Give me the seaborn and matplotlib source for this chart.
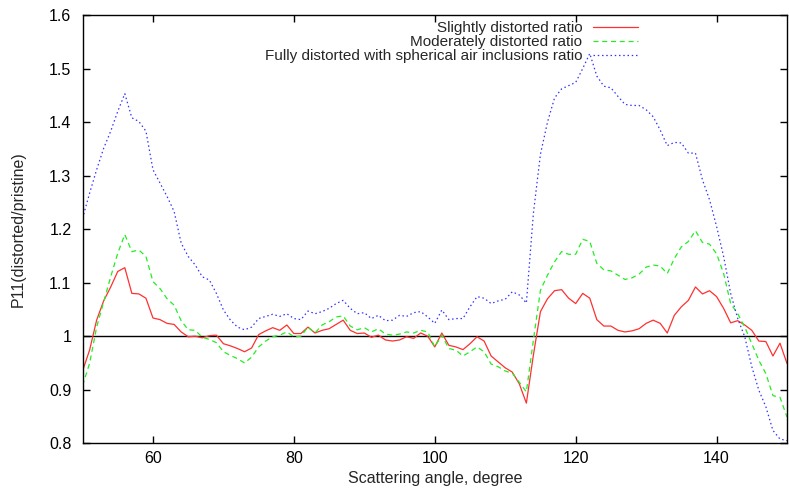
import numpy as np
import pandas as pd
import seaborn as sns
import matplotlib
matplotlib.use('Agg')
import matplotlib.pyplot as plt

angle = list(range(50, 151))

slightly = [0.935, 0.974, 1.03, 1.066, 1.092, 1.121, 1.128, 1.08, 1.079, 1.071,
            1.034, 1.031, 1.024, 1.022, 1.008, 0.999, 1.0, 0.997, 1.001, 1.002,
            0.986, 0.982, 0.977, 0.971, 0.978, 1.003, 1.01, 1.016, 1.011, 1.021,
            1.005, 1.005, 1.017, 1.006, 1.011, 1.014, 1.022, 1.03, 1.011, 1.005,
            1.006, 0.998, 1.002, 0.993, 0.991, 0.993, 0.999, 0.996, 1.006, 1.0,
            0.98, 1.006, 0.983, 0.98, 0.975, 0.986, 0.999, 0.991, 0.963, 0.952,
            0.941, 0.933, 0.911, 0.875, 0.965, 1.046, 1.07, 1.085, 1.087, 1.071,
            1.061, 1.08, 1.071, 1.031, 1.019, 1.019, 1.011, 1.008, 1.01, 1.014,
            1.024, 1.03, 1.024, 1.006, 1.039, 1.055, 1.067, 1.092, 1.079, 1.085,
            1.074, 1.052, 1.025, 1.029, 1.021, 1.011, 0.991, 0.99, 0.963, 0.987,
            0.949]

moderately = [0.908, 0.949, 1.017, 1.064, 1.111, 1.155, 1.19, 1.158, 1.161, 1.149,
              1.102, 1.089, 1.07, 1.058, 1.029, 1.012, 1.011, 0.998, 0.994, 0.988,
              0.971, 0.964, 0.958, 0.95, 0.961, 0.98, 0.991, 0.999, 1.002, 1.008,
              0.999, 1.0, 1.017, 1.006, 1.021, 1.027, 1.036, 1.038, 1.019, 1.012,
              1.016, 1.008, 1.014, 1.004, 1.002, 1.004, 1.008, 1.006, 1.011, 1.008,
              0.98, 1.002, 0.977, 0.974, 0.963, 0.971, 0.98, 0.971, 0.948, 0.943,
              0.935, 0.931, 0.914, 0.896, 0.993, 1.086, 1.114, 1.139, 1.158, 1.153,
              1.153, 1.181, 1.177, 1.136, 1.124, 1.122, 1.114, 1.106, 1.109, 1.116,
              1.129, 1.133, 1.131, 1.117, 1.145, 1.167, 1.177, 1.197, 1.175, 1.172,
              1.154, 1.117, 1.061, 1.042, 1.017, 0.986, 0.955, 0.93, 0.889, 0.886,
              0.849]

fully = [1.22, 1.267, 1.311, 1.351, 1.383, 1.42, 1.453, 1.408, 1.401, 1.383,
         1.311, 1.286, 1.261, 1.233, 1.174, 1.149, 1.133, 1.111, 1.105, 1.08,
         1.049, 1.03, 1.017, 1.012, 1.017, 1.033, 1.037, 1.041, 1.037, 1.042,
         1.033, 1.031, 1.047, 1.042, 1.046, 1.052, 1.061, 1.067, 1.052, 1.042,
         1.044, 1.033, 1.039, 1.029, 1.03, 1.039, 1.037, 1.044, 1.046, 1.036,
         1.024, 1.049, 1.031, 1.033, 1.033, 1.055, 1.074, 1.071, 1.061, 1.066,
         1.069, 1.083, 1.077, 1.062, 1.23, 1.34, 1.40, 1.445, 1.462, 1.468,
         1.474, 1.50, 1.528, 1.486, 1.467, 1.464, 1.448, 1.433, 1.431, 1.431,
         1.423, 1.41, 1.385, 1.356, 1.362, 1.361, 1.342, 1.342, 1.292, 1.255,
         1.205, 1.149, 1.08, 1.033, 0.999, 0.943, 0.899, 0.868, 0.824, 0.808,
         0.805]

labels = ['Slightly distorted ratio',
          'Moderately distorted ratio',
          'Fully distorted with spherical air inclusions ratio']

sns.set_style('ticks')
plt.rcParams['font.family'] = ['Liberation Sans', 'DejaVu Sans']

fig = plt.figure(figsize=(7.89, 4.88), dpi=100)
ax = fig.add_axes([0.1046, 0.0916, 0.8929, 0.8777])

ax.axhline(1.0, color='black', lw=1.0, zorder=1)

sns.lineplot(x=angle, y=slightly, ax=ax, color='#ff3030', lw=0.9,
             label=labels[0])
sns.lineplot(x=angle, y=moderately, ax=ax, color='#22ee22', lw=0.9,
             linestyle=(0, (4, 3)), label=labels[1])
sns.lineplot(x=angle, y=fully, ax=ax, color='#3333ff', lw=0.9,
             linestyle=(0, (1.2, 2.2)), label=labels[2])

ax.set_xlim(50, 150)
ax.set_ylim(0.8, 1.6)
ax.set_xticks([60, 80, 100, 120, 140])
ax.set_yticks([0.8, 0.9, 1.0, 1.1, 1.2, 1.3, 1.4, 1.5, 1.6])
ax.set_yticklabels(['0.8', '0.9', '1', '1.1', '1.2', '1.3', '1.4', '1.5', '1.6'])
ax.tick_params(direction='in', length=5, width=1, top=True, right=True,
               labelsize=11.5, colors='black')
ax.tick_params(axis='x', pad=5.5)
ax.tick_params(axis='y', pad=8)
for s in ax.spines.values():
    s.set_color('black')
    s.set_linewidth(1.0)

ax.set_xlabel('Scattering angle, degree', fontsize=11.5, labelpad=4)
ax.set_ylabel('P11(distorted/pristine)', fontsize=11.5)
ax.yaxis.set_label_coords(-0.08, 0.5)

ax.legend(loc='upper right', bbox_to_anchor=(0.80, 1.004), frameon=False,
          markerfirst=False, fontsize=11, handlelength=2.95, handletextpad=0.72,
          labelspacing=0.0, borderpad=0)

plt.savefig('out.png', dpi=100)
